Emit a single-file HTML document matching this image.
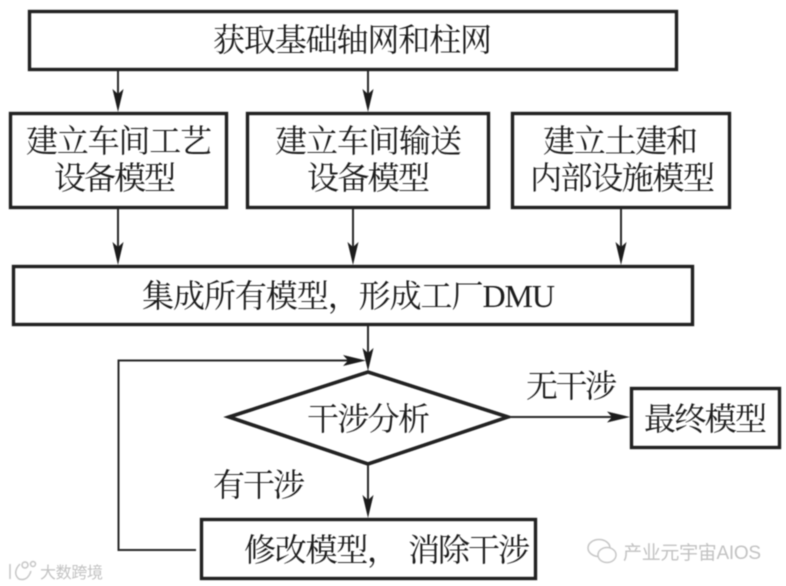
<!DOCTYPE html>
<html lang="zh">
<head>
<meta charset="utf-8">
<style>
html,body{margin:0;padding:0;background:#fff;width:786px;height:586px;overflow:hidden}
svg{display:block}
text{font-family:"Noto Serif CJK SC","Liberation Serif",serif;font-size:32px;fill:#1c1c1c}
text.d{font-family:"Liberation Serif","Noto Serif CJK SC",serif}
text.w{font-family:"Liberation Sans","Noto Sans CJK SC",sans-serif;fill:#c2c2c2}
</style>
</head>
<body>
<svg width="786" height="586" viewBox="0 0 786 586" xmlns="http://www.w3.org/2000/svg">
<defs>
<filter id="b" x="-2%" y="-2%" width="104%" height="104%"><feGaussianBlur stdDeviation="0.4"/></filter>
</defs>
<rect width="786" height="586" fill="#fff"/>
<g filter="url(#b)">
<!-- boxes -->
<g fill="none" stroke="#222" stroke-width="3.4">
<rect x="29.5" y="11.5" width="647" height="58"/>
<rect x="10.5" y="113.5" width="216" height="94"/>
<rect x="247.5" y="113.5" width="241" height="94"/>
<rect x="512.5" y="113.5" width="217" height="94"/>
<rect x="13.5" y="266.5" width="679" height="58"/>
<rect x="631.5" y="388.5" width="148" height="59"/>
<rect x="201.5" y="519.5" width="334" height="59"/>
<polygon points="229,417 368,372 508,417 368,464" stroke-width="3.6" stroke-linejoin="miter"/>
</g>
<!-- connectors -->
<g fill="none" stroke="#2a2a2a" stroke-width="2">
<path d="M118 71V104"/>
<path d="M368 71V104"/>
<path d="M118 209V257"/>
<path d="M353 209V257"/>
<path d="M621 209V257"/>
<path d="M368 326V363"/>
<path d="M368 465V510"/>
<path d="M510 417H622"/>
<path d="M196 550H118.500V360.500H353"/>
</g>
<!-- arrowheads -->
<g fill="#1c1c1c">
<path d="M118 112L112.500 89L118 94L123.500 89Z"/>
<path d="M368 112L362.500 89L368 94L373.500 89Z"/>
<path d="M118 265L112.500 242L118 247L123.500 242Z"/>
<path d="M353 265L347.500 242L353 247L358.500 242Z"/>
<path d="M621 265L615.500 242L621 247L626.500 242Z"/>
<path d="M368 371L362.500 348L368 353L373.500 348Z"/>
<path d="M368 518L362.500 495L368 500L373.500 495Z"/>
<path d="M630 417L607 411.500L612 417L607 422.500Z"/>
<path d="M366 360.500L343 355L348 360.500L343 366Z"/>
</g>
<!-- labels -->
<text x="213" y="51" textLength="279" lengthAdjust="spacing">获取基础轴网和柱网</text>
<text x="26" y="152" textLength="186" lengthAdjust="spacing">建立车间工艺</text>
<text x="54" y="189" textLength="122" lengthAdjust="spacing">设备模型</text>
<text x="275" y="152" textLength="187" lengthAdjust="spacing">建立车间输送</text>
<text x="307" y="189" textLength="123" lengthAdjust="spacing">设备模型</text>
<text x="543" y="152" textLength="155" lengthAdjust="spacing">建立土建和</text>
<text x="530" y="189" textLength="185" lengthAdjust="spacing">内部设施模型</text>
<text class="d" x="142" y="307" textLength="413" lengthAdjust="spacing">集成所有模型，形成工厂DMU</text>
<text x="307" y="430" textLength="123" lengthAdjust="spacing">干涉分析</text>
<text x="526" y="397" textLength="91" lengthAdjust="spacing">无干涉</text>
<text x="213" y="496" textLength="92" lengthAdjust="spacing">有干涉</text>
<text x="644" y="430" textLength="123" lengthAdjust="spacing">最终模型</text>
<text x="244" y="561" textLength="155" lengthAdjust="spacing">修改模型，</text>
<text x="408" y="561" textLength="122" lengthAdjust="spacing">消除干涉</text>
<!-- watermarks -->
<g fill="none" stroke="#c6c6c6" stroke-width="1.500">
<path d="M10 564V579M20 564C15 569 14 575 19 579C25 581 29 577 31 571"/>
<circle cx="25" cy="565" r="3"/>
<circle cx="33" cy="564" r="2.500"/>
<ellipse cx="599" cy="548" rx="11" ry="8.500"/>
<ellipse cx="607" cy="555" rx="9" ry="7.500" fill="#fff"/>
</g>
<text class="w" x="40" y="578" textLength="63" lengthAdjust="spacing" style="font-size:16px">大数跨境</text>
<text class="w" x="623" y="559" textLength="138" lengthAdjust="spacing" style="font-size:19px">产业元宇宙AIOS</text>
</g>
</svg>
</body>
</html>
